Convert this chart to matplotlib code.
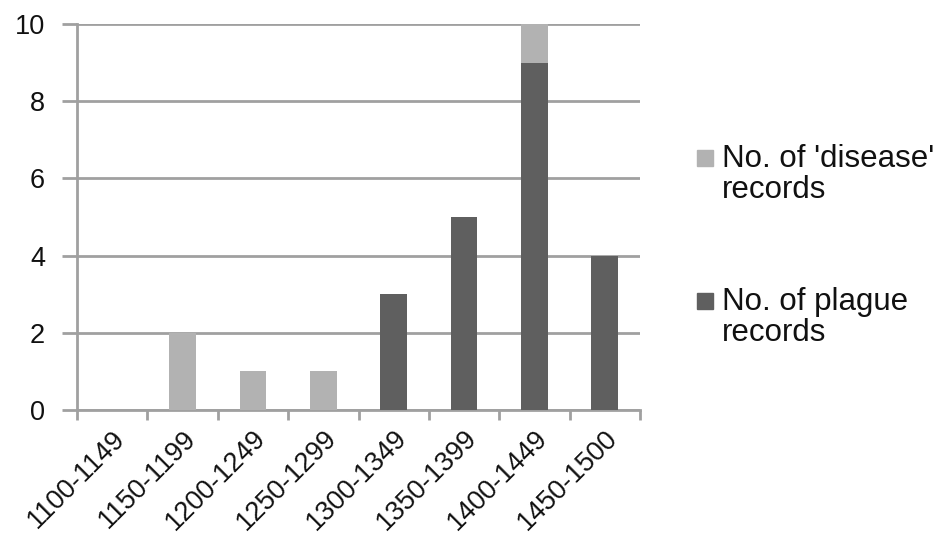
import matplotlib
matplotlib.use('Agg')
import matplotlib.pyplot as plt
import numpy as np
from matplotlib.patches import Rectangle

plt.rcParams['font.family'] = ['Liberation Sans', 'DejaVu Sans']

# ── Data ──────────────────────────────────────────────────────────────────────
periods = ['1100-1149', '1150-1199', '1200-1249', '1250-1299',
           '1300-1349', '1350-1399', '1400-1449', '1450-1500']
plague  = [0, 0, 0, 0, 3, 5, 9, 4]
disease = [0, 2, 1, 1, 0, 0, 1, 0]

labels = ["No. of 'disease'\nrecords", "No. of plague\nrecords"]
colors = ['#b2b2b2', '#5f5f5f']

W, H = 941, 544
fig = plt.figure(figsize=(W / 100, H / 100), dpi=100)
ax = fig.add_axes([77 / W, 1 - 410 / H, (640 - 77) / W, (410 - 24) / H])

x = np.arange(len(periods))
ax.bar(x, plague, width=0.38, color=colors[1], zorder=3)
ax.bar(x, disease, width=0.38, bottom=plague, color=colors[0], zorder=3)

ax.set_xlim(-0.5, len(periods) - 0.5)
ax.set_ylim(0, 10)
ax.set_yticks(range(0, 11, 2))
ax.yaxis.grid(True, color='#a0a0a0', linewidth=2, zorder=0)

# tick marks between categories, labels at centres
ax.set_xticks(np.arange(len(periods) + 1) - 0.5)
ax.set_xticklabels([])
ax.set_xticks(x, minor=True)
ax.set_xticklabels(periods, minor=True, rotation=45, ha='right',
                   rotation_mode='anchor', fontsize=19.5, color='#111111')
ax.tick_params(axis='x', which='minor', length=0, pad=11)
ax.tick_params(axis='x', which='major', length=7, width=2, color='#a0a0a0')
ax.tick_params(axis='y', length=11, width=2, color='#a0a0a0',
               labelsize=19.5, labelcolor='#111111', pad=12)

for s in ['top', 'right']:
    ax.spines[s].set_visible(False)
for s in ['left', 'bottom']:
    ax.spines[s].set_color('#a0a0a0')
    ax.spines[s].set_linewidth(2)
ax.set_axisbelow(True)

# ── Legend (drawn by hand to match layout) ───────────────────────────────────
for lab, col, ytop in zip(labels, colors, [150, 293]):
    fig.patches.append(Rectangle((697 / W, 1 - (ytop + 16) / H), 16 / W, 16 / H,
                                 transform=fig.transFigure, color=col))
    fig.text(722 / W, 1 - (ytop - 6) / H, lab, fontsize=22.5, va='top',
             ha='left', color='#111111', linespacing=1.05)

plt.savefig('out.png', dpi=100)
plt.close(fig)
